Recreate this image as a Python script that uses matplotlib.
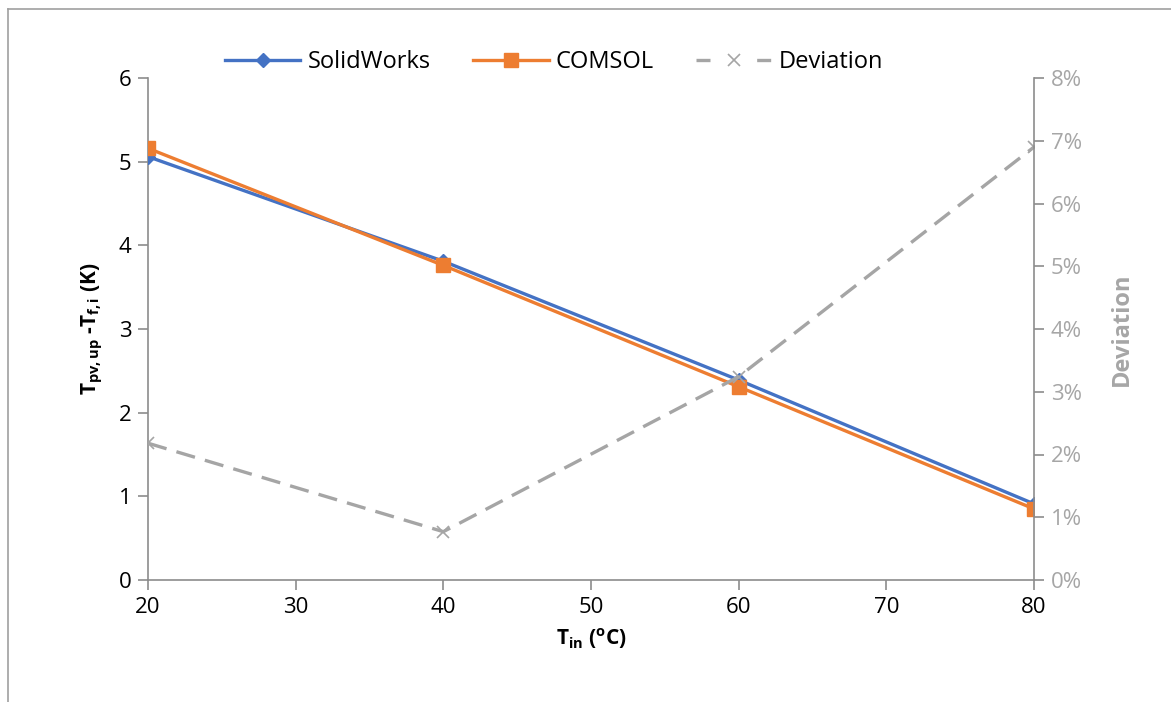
import matplotlib
matplotlib.use("Agg")
import matplotlib.pyplot as plt
from matplotlib.lines import Line2D
from matplotlib.ticker import FuncFormatter

FONT = 'Open Sans'
plt.rcParams['font.family'] = [FONT, 'DejaVu Sans']
plt.rcParams['mathtext.fontset'] = 'custom'
plt.rcParams['mathtext.rm'] = FONT
plt.rcParams['mathtext.it'] = FONT + ':italic'
plt.rcParams['mathtext.bf'] = FONT + ':bold'

# Data
t_in = [20, 40, 60, 80]
solidworks = [5.06, 3.81, 2.39, 0.91]
comsol = [5.16, 3.76, 2.31, 0.85]
deviation = [0.0218, 0.0077, 0.0324, 0.069]
left_ticks = [0, 1, 2, 3, 4, 5, 6]
right_ticks = [0, 0.01, 0.02, 0.03, 0.04, 0.05, 0.06, 0.07, 0.08]
x_ticks = [20, 30, 40, 50, 60, 70, 80]

BLUE = '#4472C4'
ORANGE = '#ED7D31'
GREY = '#A5A5A5'
AXGREY = '#8C8C8C'
LBLGREY = '#A6A6A6'

W, H = 1171, 702
fig = plt.figure(figsize=(W / 100, H / 100), dpi=100)
ax = fig.add_axes([148 / W, 1 - 580 / H, (1034 - 148) / W, (580 - 78) / H])
ax2 = ax.twinx()

ax.plot(t_in, solidworks, color=BLUE, lw=2.4, marker='D', ms=7, zorder=3)
ax.plot(t_in, comsol, color=ORANGE, lw=2.4, marker='s', ms=10, zorder=4)
ax2.plot(t_in, deviation, color=GREY, lw=2.4, ls=(0, (5.8, 3.1)), marker='x',
         ms=9, mew=1.2)

ax.set_xlim(20, 80)
ax.set_ylim(0, 6)
ax2.set_ylim(0, 0.08)
ax.set_xticks(x_ticks)
ax.set_yticks(left_ticks)
ax2.set_yticks(right_ticks)
ax2.yaxis.set_major_formatter(FuncFormatter(lambda v, p: f"{v*100:.0f}%"))

for a in (ax, ax2):
    a.patch.set_visible(False)
    a.spines['top'].set_visible(False)
    for s in ['left', 'right', 'bottom']:
        a.spines[s].set_color(AXGREY)
        a.spines[s].set_linewidth(1.2)
ax.spines['right'].set_visible(False)
ax2.spines['left'].set_visible(False)
ax2.spines['bottom'].set_visible(False)

ax.tick_params(axis='both', direction='out', length=7, width=1.2, color=AXGREY,
               labelsize=16, labelcolor='black', pad=5)
ax2.tick_params(axis='y', direction='out', length=7, width=1.2, color=AXGREY,
                labelsize=16, labelcolor=LBLGREY, pad=5)

ax.set_ylabel(r'$\mathbf{T_{pv,up}}$ -$\mathbf{T_{f,i}}$ (K)',
              fontsize=15, fontweight='bold', labelpad=10)
ax.set_xlabel(r'$\mathbf{T_{in}}$ ($\mathbf{^{o}}$C)', fontsize=15,
              fontweight='bold', labelpad=6)
ax2.set_ylabel('Deviation', fontsize=17, fontweight='bold', color=LBLGREY,
               labelpad=20)

handles = [
    Line2D([], [], color=BLUE, lw=2.4, marker='D', ms=7),
    Line2D([], [], color=ORANGE, lw=2.4, marker='s', ms=10),
    Line2D([], [], color=GREY, lw=2.4, ls=(0, (4.2, 14)), marker='x', ms=9, mew=1.2),
]
fig.legend(handles, ['SolidWorks', 'COMSOL', 'Deviation'], loc='center',
           bbox_to_anchor=(554 / W, 1 - 62 / H), ncol=3, frameon=False,
           fontsize=17, handlelength=3.2, handletextpad=0.3, columnspacing=1.8)

# chart border (left and top visible in reference)
fig.add_artist(Line2D([8 / W, 8 / W], [0, 1 - 9 / H], transform=fig.transFigure,
                      color='#A0A0A0', lw=1.2))
fig.add_artist(Line2D([8 / W, 1], [1 - 9 / H, 1 - 9 / H], transform=fig.transFigure,
                      color='#A0A0A0', lw=1.2))

fig.savefig('out.png', dpi=100)
